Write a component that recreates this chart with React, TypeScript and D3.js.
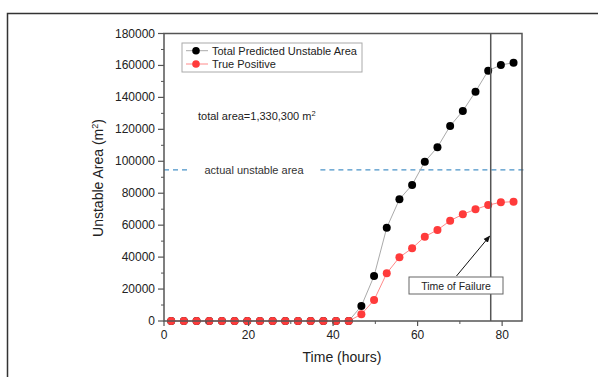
import React from "react";
import * as d3 from "d3";

// time of each sample (hours)
const hours = [1.7, 4.7, 7.7, 10.7, 13.7, 16.7, 19.7, 22.7, 25.7, 28.7, 31.7, 34.7, 37.7, 40.7,
  43.7, 46.7, 49.7, 52.7, 55.7, 58.7, 61.7, 64.7, 67.7, 70.7, 73.7, 76.7, 79.7, 82.7];
const totalPredicted = [0, 0, 0, 0, 0, 0, 0, 0, 0, 0, 0, 0, 0, 0,
  0, 9400, 28200, 58400, 76200, 85200, 99700, 108800, 122100, 131500, 143600, 156700, 160300, 161700];
const truePositive = [0, 0, 0, 0, 0, 0, 0, 0, 0, 0, 0, 0, 0, 0,
  0, 4200, 13100, 29900, 39900, 45500, 52800, 57000, 62800, 66800, 69900, 72600, 74300, 74700];
const yTicks = [0, 20000, 40000, 60000, 80000, 100000, 120000, 140000, 160000, 180000];
const xTicks = [0, 20, 40, 60, 80];
const actualUnstable = 94600;
const failureTime = 77.3;

const W = 598, H = 377;
const m = { left: 164, right: 522, top: 33.5, bottom: 321 };
const FONT = "Arial, 'Liberation Sans', sans-serif";

export default function App() {
  const x = d3.scaleLinear().domain([0, 84.7]).range([m.left, m.right]);
  const y = d3.scaleLinear().domain([0, 180000]).range([m.bottom, m.top]);
  const line = (vals: number[]) =>
    d3.line<number>().x((_, i) => x(hours[i])).y((d) => y(d))(vals) || "";
  const yMinor = d3.range(10000, 180000, 20000);
  const xMinor = [10, 30, 50, 70];
  const axisCol = "#555";
  const dashY = y(actualUnstable);

  return (
    <svg width={W} height={H} style={{ position: "absolute", left: 0, top: 0 }} fontFamily={FONT}>
      <rect width={W} height={H} fill="#fff" />
      {/* outer figure frame */}
      <path d={`M7.5,${H} V13.5 H${W}`} fill="none" stroke="#333" strokeWidth={1.5} />

      {/* actual unstable area */}
      <line x1={m.left} x2={x(5.5)} y1={dashY} y2={dashY} stroke="#4a93c8" strokeWidth={1.2} strokeDasharray="5,4" />
      <line x1={x(37)} x2={m.right + 3} y1={dashY} y2={dashY} stroke="#4a93c8" strokeWidth={1.2} strokeDasharray="5,4" />
      <text x={x(21.3)} y={dashY + 4} fontSize={11} fill="#333" textAnchor="middle">actual unstable area</text>

      {/* series */}
      <path d={line(totalPredicted)} fill="none" stroke="#aaa" strokeWidth={1} />
      <path d={line(truePositive)} fill="none" stroke="#ff8a8a" strokeWidth={1} />
      {totalPredicted.map((v, i) => (
        <circle key={"b" + i} cx={x(hours[i])} cy={y(v)} r={4} fill="#000" />
      ))}
      {truePositive.map((v, i) => (
        <circle key={"r" + i} cx={x(hours[i])} cy={y(v)} r={4} fill="#ff3b3b" />
      ))}

      {/* time of failure */}
      <line x1={x(failureTime)} x2={x(failureTime)} y1={m.top} y2={m.bottom} stroke="#555" strokeWidth={1.5} />
      <defs>
        <marker id="ah" viewBox="0 0 10 10" refX={9} refY={5} markerWidth={7} markerHeight={7} orient="auto">
          <path d="M0,1 L10,5 L0,9 z" fill="#111" />
        </marker>
      </defs>
      <line x1={456.5} y1={276} x2={x(failureTime) - 1} y2={236} stroke="#111" strokeWidth={1} markerEnd="url(#ah)" />
      <rect x={409} y={277} width={94} height={17} fill="#fff" stroke="#666" strokeWidth={1} />
      <text x={456} y={289.5} fontSize={10.5} fill="#222" textAnchor="middle">Time of Failure</text>

      {/* total area note */}
      <text x={198} y={120} fontSize={11} fill="#222">
        total area=1,330,300 m<tspan dy={-4} fontSize={7.5}>2</tspan>
      </text>

      {/* legend */}
      <rect x={182} y={43} width={180} height={29} fill="#fff" stroke="#aaa" strokeWidth={1} />
      <line x1={186} x2={208} y1={50.7} y2={50.7} stroke="#aaa" />
      <circle cx={196} cy={50.7} r={3.8} fill="#000" />
      <text x={212} y={54.5} fontSize={11} fill="#222">Total Predicted Unstable Area</text>
      <line x1={186} x2={208} y1={64} y2={64} stroke="#ff8a8a" />
      <circle cx={196} cy={64} r={3.8} fill="#ff3b3b" />
      <text x={212} y={67.8} fontSize={11} fill="#222">True Positive</text>

      {/* frame */}
      <rect x={m.left} y={m.top} width={m.right - m.left} height={m.bottom - m.top} fill="none" stroke={axisCol} strokeWidth={1.5} />

      {/* y axis */}
      {yTicks.map((t) => (
        <g key={"y" + t}>
          <line x1={m.left - 6} x2={m.left} y1={y(t)} y2={y(t)} stroke={axisCol} strokeWidth={1.2} />
          <text x={m.left - 9} y={y(t) + 4} fontSize={12} fill="#222" textAnchor="end">{t}</text>
        </g>
      ))}
      {yMinor.map((t) => (
        <line key={"ym" + t} x1={m.left - 3} x2={m.left} y1={y(t)} y2={y(t)} stroke={axisCol} strokeWidth={1} />
      ))}
      {/* x axis */}
      {xTicks.map((t) => (
        <g key={"x" + t}>
          <line x1={x(t)} x2={x(t)} y1={m.bottom} y2={m.bottom + 5} stroke={axisCol} strokeWidth={1.2} />
          <text x={x(t)} y={m.bottom + 18} fontSize={12} fill="#222" textAnchor="middle">{t}</text>
        </g>
      ))}
      {xMinor.map((t) => (
        <line key={"xm" + t} x1={x(t)} x2={x(t)} y1={m.bottom} y2={m.bottom + 3} stroke={axisCol} strokeWidth={1} />
      ))}

      <text x={342} y={362} fontSize={14} fill="#222" textAnchor="middle">Time (hours)</text>
      <text transform={`translate(103,178) rotate(-90)`} fontSize={14} fill="#222" textAnchor="middle">
        Unstable Area (m<tspan dy={-5} fontSize={9}>2</tspan><tspan dy={5}>)</tspan>
      </text>
    </svg>
  );
}
